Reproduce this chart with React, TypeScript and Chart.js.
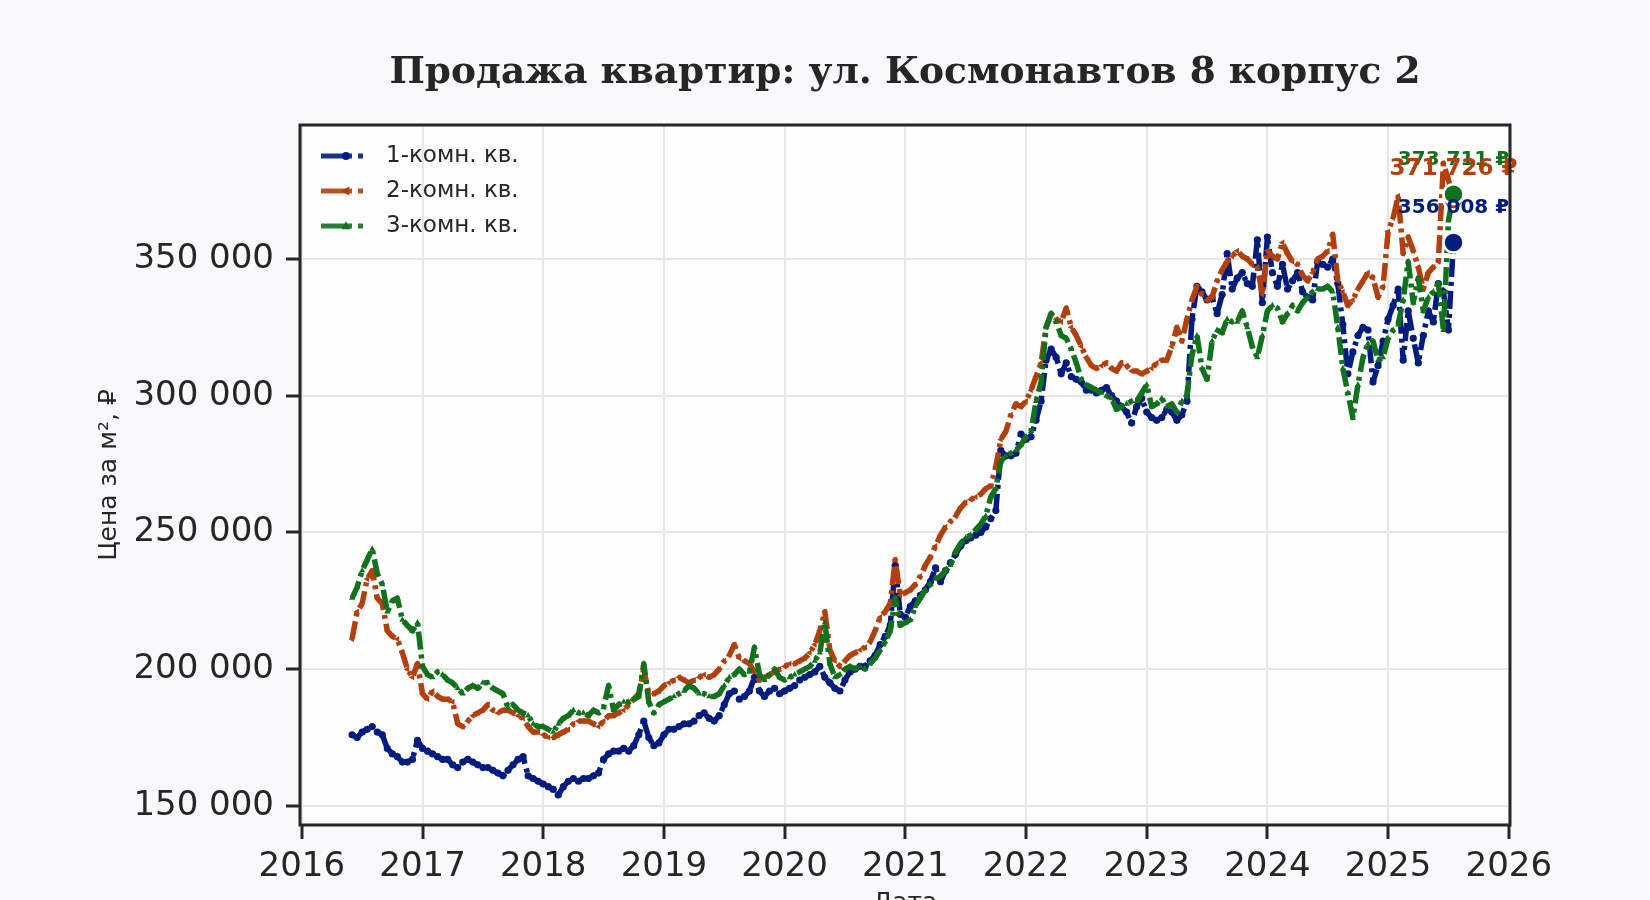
import { useEffect, useRef } from "react";
import { Chart, registerables } from "chart.js";
import type { Plugin } from "chart.js";

Chart.register(...registerables);

const TITLE = "Продажа квартир: ул. Космонавтов 8 корпус 2";
const X_LABEL = "Дата";
const Y_LABEL = "Цена за м², ₽";

// first sample ~ 1 June 2016, then one sample every half month
const START_YEAR = 2016 + 5 / 12;
const STEP_YEARS = 1 / 24;

const YEAR_TICKS = [2016, 2017, 2018, 2019, 2020, 2021, 2022, 2023, 2024, 2025, 2026];
const PRICE_TICKS = [150000, 200000, 250000, 300000, 350000];

const SERIES_LABELS = ["1-комн. кв.", "2-комн. кв.", "3-комн. кв."];

// thousand ₽ per m², one row per calendar year
const ONE_ROOM = [
  176, 175, 177, 178, 179, 177, 176, 171, 169, 168, 166, 166, 167, 174,
  171, 170, 169, 168, 167, 167, 165, 164, 166, 167, 166, 165, 164, 164, 163, 162, 161, 163, 165, 167, 168, 161, 160, 159,
  158, 157, 156, 154, 157, 159, 160, 159, 160, 160, 161, 162, 167, 169, 170, 170, 171, 170, 172, 176, 181, 175, 172, 173,
  176, 178, 178, 179, 180, 180, 181, 183, 184, 182, 181, 183, 187, 191, 192, 189, 190, 192, 197, 192, 190, 192, 193, 191,
  192, 193, 194, 196, 197, 198, 199, 201, 197, 195, 193, 192, 196, 199, 200, 201, 201, 203, 205, 209, 212, 216, 238, 220,
  219, 223, 225, 227, 229, 232, 237, 232, 236, 239, 242, 245, 247, 248, 249, 250, 252, 255, 258, 280, 278, 278, 279, 286,
  284, 285, 291, 298, 313, 317, 314, 308, 312, 307, 306, 305, 302, 302, 301, 302, 303, 300, 298, 296, 294, 290, 296, 299,
  294, 292, 291, 292, 295, 294, 291, 293, 298, 328, 340, 338, 335, 336, 330, 337, 352, 339, 343, 345, 341, 340, 357, 334,
  358, 345, 340, 348, 339, 342, 345, 338, 336, 335, 349, 348, 347, 350, 341, 326, 308, 316, 322, 325, 324, 305, 311, 320,
  328, 333, 339, 313, 331, 321, 312, 322, 331, 327, 341, 338, 324, 356.008,
];

const TWO_ROOM = [
  211, 221, 224, 233, 236, 226, 224, 214, 212, 211, 206, 200, 197, 202,
  191, 189, 192, 190, 189, 189, 188, 180, 179, 181, 183, 184, 185, 187, 185, 184, 185, 185, 184, 183, 182, 179, 177, 177,
  176, 175, 175, 176, 177, 178, 180, 181, 181, 181, 180, 179, 181, 183, 183, 184, 185, 187, 189, 191, 200, 191, 191, 192,
  194, 195, 196, 197, 196, 195, 196, 197, 198, 197, 198, 200, 203, 205, 209, 204, 203, 202, 199, 196, 197, 198, 199, 200,
  201, 202, 202, 203, 204, 206, 209, 214, 221, 207, 203, 201, 203, 205, 206, 207, 208, 210, 214, 219, 221, 224, 240, 227,
  228, 229, 231, 234, 238, 241, 245, 249, 252, 254, 256, 259, 261, 262, 263, 264, 266, 267, 274, 284, 287, 293, 297, 296,
  298, 302, 307, 312, 325, 330, 328, 327, 332, 325, 322, 318, 314, 311, 310, 311, 312, 310, 309, 312, 311, 309, 309, 308,
  309, 310, 312, 313, 313, 318, 325, 320, 328, 335, 340, 337, 335, 336, 342, 346, 349, 351, 353, 351, 350, 348, 347, 337,
  353, 351, 350, 356, 352, 349, 348, 344, 342, 345, 350, 351, 353, 359, 342, 338, 333, 335, 339, 342, 345, 343, 336, 340,
  360, 365, 373, 352, 358, 353, 347, 339, 345, 347, 349, 385, 379, 371.726,
];

const THREE_ROOM = [
  226, 230, 236, 240, 244, 235, 231, 221, 225, 226, 218, 216, 214, 217,
  201, 198, 197, 199, 198, 196, 195, 193, 191, 193, 194, 193, 195, 195, 193, 192, 191, 186, 187, 185, 184, 183, 180, 179,
  179, 178, 177, 180, 182, 183, 185, 184, 184, 183, 185, 184, 186, 194, 185, 187, 188, 188, 189, 190, 202, 188, 184, 187,
  188, 189, 190, 191, 192, 194, 193, 191, 191, 190, 190, 191, 194, 197, 198, 200, 198, 199, 208, 198, 196, 198, 200, 197,
  196, 197, 198, 199, 200, 201, 203, 206, 217, 202, 197, 198, 200, 201, 200, 201, 200, 202, 204, 207, 210, 214, 226, 216,
  217, 218, 223, 226, 229, 231, 233, 234, 236, 238, 243, 246, 248, 249, 251, 253, 256, 263, 266, 276, 278, 279, 280, 282,
  285, 287, 298, 305, 325, 330, 327, 322, 321, 317, 312, 306, 304, 303, 302, 301, 300, 299, 295, 296, 297, 298, 298, 301,
  304, 296, 297, 299, 296, 297, 294, 298, 300, 315, 322, 310, 306, 320, 324, 323, 328, 327, 327, 331, 325, 318, 314, 322,
  331, 333, 332, 327, 330, 333, 331, 334, 336, 338, 339, 339, 340, 338, 325, 310, 301, 292, 304, 314, 319, 320, 313, 314,
  321, 324, 326, 335, 349, 334, 343, 331, 336, 338, 341, 324, 364, 373.711,
];

const SERIES = [ONE_ROOM, TWO_ROOM, THREE_ROOM];

const COLORS = ["#001c7f", "#b1400d", "#12711c"];
const MARKERS = [
  { style: "circle", rotation: 0 },
  { style: "triangle", rotation: -90 },
  { style: "triangle", rotation: 0 },
];
const END_LABEL_LIFT = [35, 31, 34];
const END_LABEL_SIZE = [20, 23, 20];

const INK = "#262626";
const GRID = "#e6e6e6";
const FONT = "'DejaVu Sans', sans-serif";

function spaced(v: number): string {
  return Math.round(v)
    .toString()
    .replace(/\B(?=(\d{3})+(?!\d))/g, " ");
}

function drawMarker(ctx: CanvasRenderingContext2D, i: number, x: number, y: number, r: number) {
  ctx.save();
  ctx.translate(x, y);
  ctx.rotate((MARKERS[i].rotation * Math.PI) / 180);
  ctx.beginPath();
  if (MARKERS[i].style === "circle") {
    ctx.arc(0, 0, r, 0, Math.PI * 2);
  } else {
    ctx.moveTo(0, -r * 1.2);
    ctx.lineTo(r * 1.1, r * 0.8);
    ctx.lineTo(-r * 1.1, r * 0.8);
    ctx.closePath();
  }
  ctx.fillStyle = COLORS[i];
  ctx.fill();
  ctx.restore();
}

const decor: Plugin<"line"> = {
  id: "decor",
  beforeDraw(chart) {
    const { ctx, chartArea: a } = chart;
    ctx.save();
    ctx.fillStyle = "#fdfdfe";
    ctx.fillRect(a.left, a.top, a.right - a.left, a.bottom - a.top);
    ctx.restore();
  },
  afterDatasetsDraw(chart) {
    const { ctx } = chart;
    const ends = SERIES.map((_, i) => {
      const meta = chart.getDatasetMeta(i);
      const el = meta.data[meta.data.length - 1];
      return { x: el.x, y: el.y };
    });
    ctx.save();
    ends.forEach((p, i) => {
      ctx.beginPath();
      ctx.arc(p.x, p.y, 10, 0, Math.PI * 2);
      ctx.fillStyle = COLORS[i];
      ctx.fill();
      ctx.lineWidth = 2.5;
      ctx.strokeStyle = "#ffffff";
      ctx.stroke();
    });
    ctx.textAlign = "center";
    ctx.textBaseline = "middle";
    [2, 1, 0].forEach((i) => {
      const vals = SERIES[i];
      ctx.font = `bold ${END_LABEL_SIZE[i]}px ${FONT}`;
      ctx.fillStyle = COLORS[i];
      ctx.fillText(`${spaced(vals[vals.length - 1] * 1000)} ₽`, ends[i].x, ends[i].y - END_LABEL_LIFT[i]);
    });
    ctx.restore();
  },
  afterDraw(chart) {
    const { ctx, chartArea: a } = chart;
    ctx.save();
    // frame
    ctx.strokeStyle = INK;
    ctx.lineWidth = 3;
    ctx.strokeRect(a.left, a.top, a.right - a.left, a.bottom - a.top);

    // title
    ctx.fillStyle = INK;
    ctx.font = `bold 37.5px 'DejaVu Serif', serif`;
    ctx.textAlign = "center";
    ctx.textBaseline = "middle";
    ctx.fillText(TITLE, (a.left + a.right) / 2, a.top - 52);

    // x axis label, mostly below the page edge
    ctx.font = `25px ${FONT}`;
    ctx.fillText(X_LABEL, (a.left + a.right) / 2, a.bottom + 78);

    // legend
    ctx.font = `23px ${FONT}`;
    ctx.textAlign = "left";
    SERIES_LABELS.forEach((label, i) => {
      const y = a.top + 31 + i * 35;
      const x0 = a.left + 21;
      ctx.save();
      ctx.strokeStyle = COLORS[i];
      ctx.globalAlpha = 0.9;
      ctx.lineWidth = 5;
      ctx.setLineDash([31, 6, 5, 6]);
      ctx.beginPath();
      ctx.moveTo(x0, y);
      ctx.lineTo(x0 + 42, y);
      ctx.stroke();
      ctx.restore();
      drawMarker(ctx, i, x0 + 25, y, 4);
      ctx.fillStyle = INK;
      ctx.fillText(label, a.left + 86, y);
    });
    ctx.restore();
  },
};

export default function App() {
  const canvasRef = useRef<HTMLCanvasElement>(null);

  useEffect(() => {
    document.body.style.margin = "0";
    if (!canvasRef.current) return;

    const xs = ONE_ROOM.map((_, i) => START_YEAR + i * STEP_YEARS);

    const chart = new Chart(canvasRef.current, {
      type: "line",
      data: {
        datasets: SERIES.map((vals, i) => ({
          label: SERIES_LABELS[i],
          data: vals.map((v, k) => ({ x: xs[k], y: v * 1000 })),
          borderColor: COLORS[i],
          backgroundColor: COLORS[i],
          borderWidth: 5.5,
          borderDash: [18, 5, 4, 5],
          borderCapStyle: "butt" as const,
          borderJoinStyle: "round" as const,
          tension: 0,
          pointStyle: MARKERS[i].style as "circle" | "triangle",
          pointRotation: MARKERS[i].rotation,
          pointRadius: 3.6,
          pointBorderWidth: 0,
          pointBackgroundColor: COLORS[i],
          pointHoverRadius: 0,
          order: 3 - i,
        })),
      },
      options: {
        animation: false,
        responsive: false,
        events: [],
        font: { family: FONT },
        layout: { padding: { left: 90, right: 140, top: 125, bottom: 0 } },
        plugins: {
          legend: { display: false },
          title: { display: false },
          tooltip: { enabled: false },
        },
        scales: {
          x: {
            type: "linear",
            min: 2015.985,
            max: 2026.01,
            afterBuildTicks: (s) => {
              s.ticks = YEAR_TICKS.map((value) => ({ value }));
            },
            afterFit: (s) => {
              s.height = 75;
            },
            border: { display: false },
            grid: { color: GRID, lineWidth: 2, tickColor: INK, tickWidth: 3, tickLength: 14 },
            ticks: {
              color: INK,
              font: { family: FONT, size: 34 },
              padding: 8,
              maxRotation: 0,
              autoSkip: false,
              callback: (v) => String(v),
            },
          },
          y: {
            type: "linear",
            min: 143000,
            max: 399000,
            afterBuildTicks: (s) => {
              s.ticks = PRICE_TICKS.map((value) => ({ value }));
            },
            afterFit: (s) => {
              s.width = 210;
            },
            border: { display: false },
            grid: { color: GRID, lineWidth: 2, tickColor: INK, tickWidth: 3, tickLength: 14 },
            ticks: {
              color: INK,
              font: { family: FONT, size: 34 },
              padding: 12,
              autoSkip: false,
              callback: (v) => spaced(Number(v)),
            },
            title: {
              display: true,
              text: Y_LABEL,
              color: INK,
              font: { family: FONT, size: 25 },
              padding: { top: 4, bottom: 4 },
            },
          },
        },
      },
      plugins: [decor],
    });

    return () => chart.destroy();
  }, []);

  return (
    <div style={{ width: 1650, height: 900, background: "#f8f9fb", overflow: "hidden" }}>
      <canvas ref={canvasRef} width={1650} height={900} style={{ display: "block" }} />
    </div>
  );
}
